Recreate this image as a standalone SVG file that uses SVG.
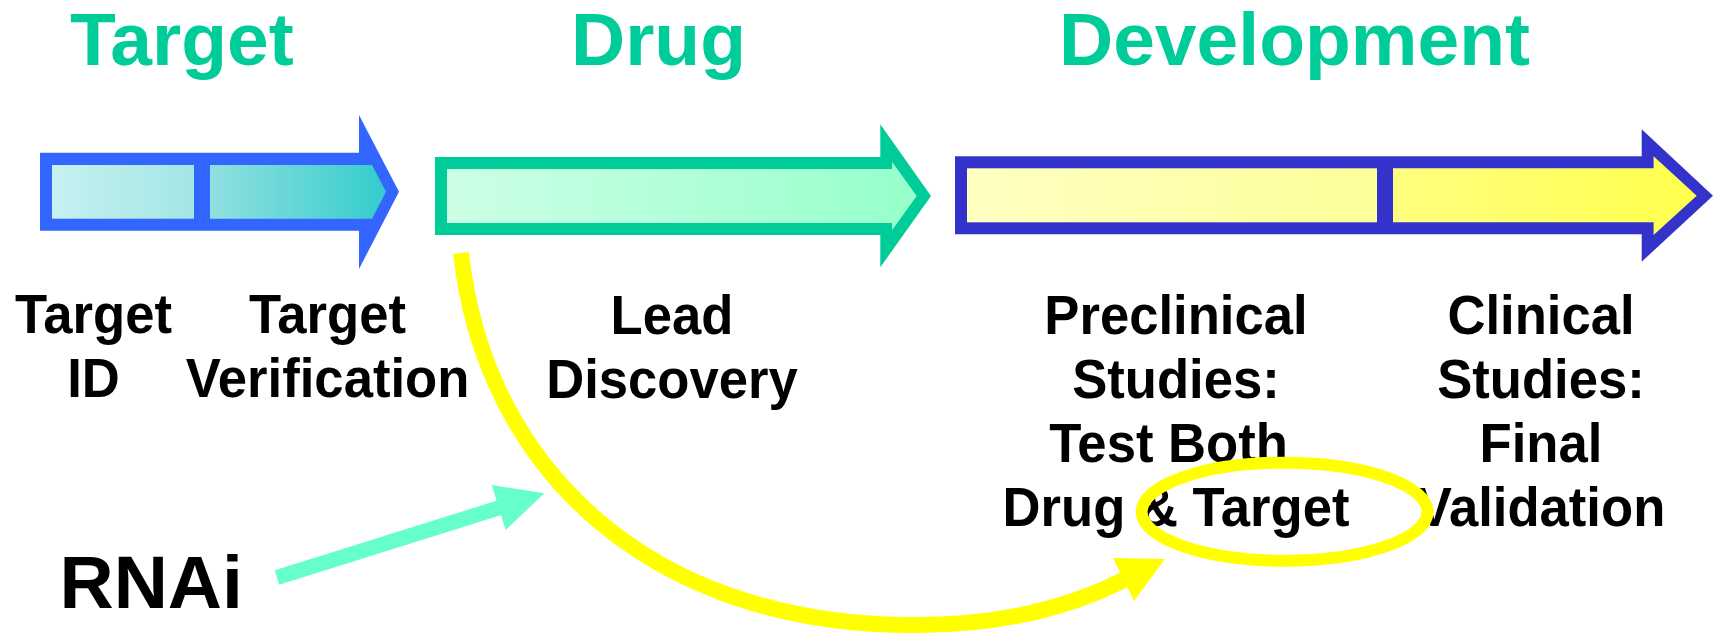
<svg xmlns="http://www.w3.org/2000/svg" width="1717" height="633" viewBox="0 0 1717 633">
<defs>
<linearGradient id="gBlue" gradientUnits="userSpaceOnUse" x1="52" y1="0" x2="386" y2="0">
<stop offset="0" stop-color="#C6F1F1"/><stop offset="0.43" stop-color="#A3E6E5"/><stop offset="0.47" stop-color="#93E0E0"/><stop offset="1" stop-color="#33CCCC"/>
</linearGradient>
<linearGradient id="gGreen" gradientUnits="userSpaceOnUse" x1="447" y1="0" x2="917" y2="0">
<stop offset="0" stop-color="#CCFFE6"/><stop offset="1" stop-color="#96FFCA"/>
</linearGradient>
<linearGradient id="gYellow" gradientUnits="userSpaceOnUse" x1="967" y1="0" x2="1697" y2="0">
<stop offset="0" stop-color="#FFFFC2"/><stop offset="0.56" stop-color="#FDFF99"/><stop offset="0.58" stop-color="#FFFF80"/><stop offset="1" stop-color="#FFFF4D"/>
</linearGradient>
<style>
.hdr{font-family:"Liberation Sans",Arial,sans-serif;font-weight:bold;font-size:75px;fill:#00CC99}
.lbl{font-family:"Liberation Sans",Arial,sans-serif;font-weight:bold;font-size:56px;fill:#000;text-anchor:middle}
.big{font-family:"Liberation Sans",Arial,sans-serif;font-weight:bold;font-size:75px;fill:#000}
.yel{fill:none;stroke:#FFFF00;stroke-width:16}
</style>
</defs>
<rect width="1717" height="633" fill="#FFFFFF"/>

<g id="headers">
<text class="hdr" x="70" y="65">Target</text>
<text class="hdr" x="571" y="65">Drug</text>
<text class="hdr" x="1059" y="65">Development</text>
</g>

<g id="arrow-target">
<polygon points="40,152.7 359,152.7 359,115 399,191.8 359,269 359,230.7 40,230.7" fill="#3366FF"/>
<rect x="52" y="165" width="142" height="53.7" fill="url(#gBlue)"/>
<polygon points="210,165 372,165 386,191.8 372,218.7 210,218.7" fill="url(#gBlue)"/>
</g>

<g id="arrow-drug">
<polygon points="435,157 880.3,157 880.3,124.3 931,196 880.3,267.3 880.3,235 435,235" fill="#00CC99"/>
<polygon points="447,169 892,169 892,161.7 916.7,196 892,230.3 892,223 447,223" fill="url(#gGreen)"/>
</g>

<g id="arrow-development">
<polygon points="955,156.3 1641.7,156.3 1641.7,129.3 1713,195.7 1641.7,261.7 1641.7,234.3 955,234.3" fill="#3333CC"/>
<rect x="967" y="168.3" width="410" height="54" fill="url(#gYellow)"/>
<polygon points="1393,168.3 1653.6,168.3 1653.6,156.3 1696.7,195.7 1653.6,235 1653.6,222.3 1393,222.3" fill="url(#gYellow)"/>
</g>

<g id="label-target-id">
<text class="lbl" transform="matrix(0.94 0 0 1 93.5 0)"><tspan x="0" y="333">Target</tspan><tspan x="0" y="397">ID</tspan></text>
</g>
<g id="label-target-verification">
<text class="lbl" transform="matrix(0.94 0 0 1 327.5 0)"><tspan x="0" y="333">Target</tspan><tspan x="0" y="397">Verification</tspan></text>
</g>
<g id="label-lead-discovery">
<text class="lbl" transform="matrix(0.94 0 0 1 672 0)"><tspan x="0" y="334">Lead</tspan><tspan x="0" y="398">Discovery</tspan></text>
</g>
<g id="label-preclinical">
<text class="lbl" transform="matrix(0.94 0 0 1 1176 0)"><tspan x="0" y="334">Preclinical</tspan><tspan x="0" y="398">Studies:</tspan><tspan x="-8" y="462">Test Both</tspan><tspan x="0" y="526">Drug &amp; Target</tspan></text>
</g>
<g id="label-clinical">
<text class="lbl" transform="matrix(0.94 0 0 1 1541 0)"><tspan x="0" y="334">Clinical</tspan><tspan x="0" y="398">Studies:</tspan><tspan x="0" y="462">Final</tspan><tspan x="0" y="526">Validation</tspan></text>
</g>

<g id="rnai">
<text class="big" x="59.5" y="607.5">RNAi</text>
</g>

<g id="connectors">
<path class="yel" d="M461,253 C485,470 650,622 905,625 C990,626 1060,612 1126,579"/>
<polygon points="1113,558 1165,559 1134,601" fill="#FFFF00"/>
<line x1="277" y1="577.5" x2="500" y2="507.5" stroke="#66FFCC" stroke-width="15"/>
<polygon points="491.7,485 544.4,493.3 505.7,530" fill="#66FFCC"/>
</g>

<g id="highlight">
<ellipse cx="1284.6" cy="511.7" rx="143" ry="49" fill="none" stroke="#FFFF00" stroke-width="12"/>
</g>
</svg>
